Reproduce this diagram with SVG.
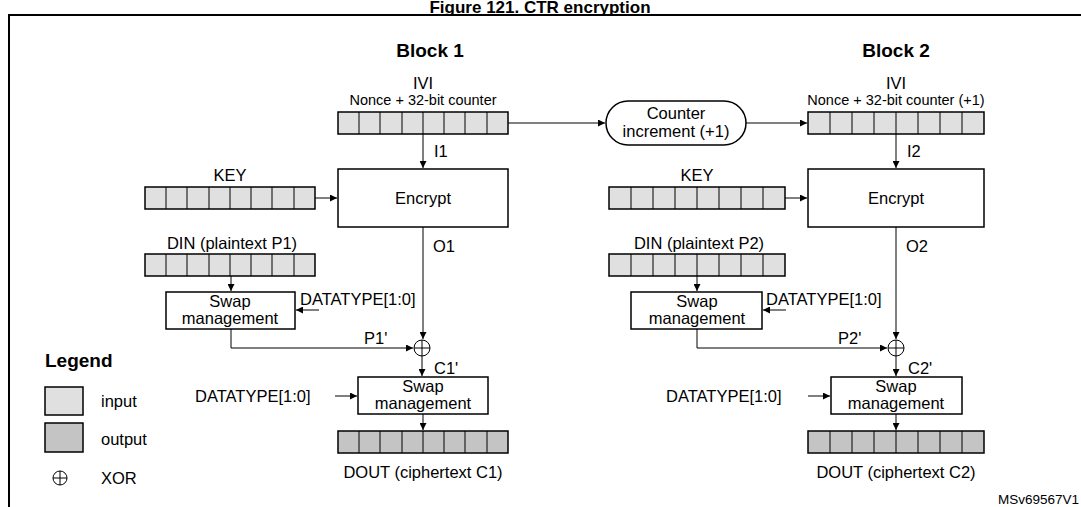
<svg xmlns="http://www.w3.org/2000/svg" width="1081" height="507" viewBox="0 0 1081 507">
<style>
text{font-family:"Liberation Sans",Arial,sans-serif;fill:#000}
.t{font-size:16.5px}
.s{font-size:14.5px}
.b{font-size:19px;font-weight:bold}
.in{fill:#e0e0e0;stroke:#000;stroke-width:1.5}
.out{fill:#c4c4c4;stroke:#000;stroke-width:1.5}
.bx{fill:#fff;stroke:#000;stroke-width:1.5}
.ln{fill:none;stroke:#000;stroke-width:1}
</style>
<defs>
<marker id="a" viewBox="0 0 10 10" refX="10" refY="5" markerWidth="7" markerHeight="7" markerUnits="userSpaceOnUse" orient="auto"><path d="M0,0L10,5L0,10z" fill="#000"/></marker>
</defs>
<rect width="1081" height="507" fill="#fff"/>
<text x="540" y="13" text-anchor="middle" style="font-size:17px;font-weight:bold">Figure 121. CTR encryption</text>
<path d="M9,507V15H1081" fill="none" stroke="#000" stroke-width="2"/>
<text class="b" x="430" y="57" text-anchor="middle">Block 1</text>
<text class="b" x="896" y="57" text-anchor="middle">Block 2</text>

<g id="ivi1"><text class="t" x="423" y="89" text-anchor="middle">IVI</text><text class="s" x="423" y="105" text-anchor="middle">Nonce + 32-bit counter</text>
<rect class="in" x="338" y="112" width="170" height="22"/><path class="ln" stroke-width="1.5" d="M359,112v22M380,112v22M402,112v22M423,112v22M444,112v22M465,112v22M487,112v22"/></g>
<g id="key1"><text class="t" x="230" y="181" text-anchor="middle">KEY</text>
<rect class="in" x="145" y="187" width="170" height="22"/><path class="ln" stroke-width="1.5" d="M166,187v22M187,187v22M209,187v22M230,187v22M251,187v22M272,187v22M294,187v22"/></g>
<g id="enc1"><rect class="bx" x="338" y="169" width="170" height="58"/><text class="t" x="423" y="204" text-anchor="middle">Encrypt</text></g>
<g id="din1"><text class="t" x="232" y="249" text-anchor="middle">DIN (plaintext P1)</text>
<rect class="in" x="145" y="254" width="170" height="22"/><path class="ln" stroke-width="1.5" d="M166,254v22M187,254v22M209,254v22M230,254v22M251,254v22M272,254v22M294,254v22"/></g>
<g id="swap1a"><rect class="bx" x="166" y="292" width="129" height="37"/><text class="t" x="230" y="307" text-anchor="middle">Swap</text><text class="t" x="230" y="324" text-anchor="middle">management</text></g>
<g id="xor1"><circle class="ln" cx="422" cy="348" r="8"/><path class="ln" d="M414,348h16M422,340v16"/></g>
<g id="swap1b"><rect class="bx" x="358" y="377" width="130" height="37"/><text class="t" x="423" y="392" text-anchor="middle">Swap</text><text class="t" x="423" y="409" text-anchor="middle">management</text></g>
<g id="dout1"><rect class="out" x="338" y="431" width="170" height="22"/><path class="ln" stroke-width="1.5" d="M359,431v22M380,431v22M402,431v22M423,431v22M444,431v22M465,431v22M487,431v22"/>
<text class="t" x="423" y="478" text-anchor="middle">DOUT (ciphertext C1)</text></g>

<g id="counter"><rect class="bx" x="606" y="101" width="140" height="44" rx="22" stroke-width="1"/><text class="t" x="676" y="119" text-anchor="middle">Counter</text><text class="t" x="676" y="137" text-anchor="middle">increment (+1)</text></g>

<g id="ivi2"><text class="t" x="896" y="89" text-anchor="middle">IVI</text><text class="s" x="896" y="105" text-anchor="middle">Nonce + 32-bit counter (+1)</text>
<rect class="in" x="808" y="112" width="176" height="22"/><path class="ln" stroke-width="1.5" d="M830,112v22M852,112v22M874,112v22M896,112v22M918,112v22M940,112v22M962,112v22"/></g>
<g id="key2"><text class="t" x="697" y="181" text-anchor="middle">KEY</text>
<rect class="in" x="609" y="187" width="176" height="22"/><path class="ln" stroke-width="1.5" d="M631,187v22M653,187v22M675,187v22M697,187v22M719,187v22M741,187v22M763,187v22"/></g>
<g id="enc2"><rect class="bx" x="808" y="169" width="176" height="58"/><text class="t" x="896" y="204" text-anchor="middle">Encrypt</text></g>
<g id="din2"><text class="t" x="699" y="249" text-anchor="middle">DIN (plaintext P2)</text>
<rect class="in" x="609" y="254" width="176" height="22"/><path class="ln" stroke-width="1.5" d="M631,254v22M653,254v22M675,254v22M697,254v22M719,254v22M741,254v22M763,254v22"/></g>
<g id="swap2a"><rect class="bx" x="631" y="292" width="131" height="37"/><text class="t" x="697" y="307" text-anchor="middle">Swap</text><text class="t" x="697" y="324" text-anchor="middle">management</text></g>
<g id="xor2"><circle class="ln" cx="896" cy="348" r="8"/><path class="ln" d="M888,348h16M896,340v16"/></g>
<g id="swap2b"><rect class="bx" x="831" y="377" width="131" height="37"/><text class="t" x="896" y="392" text-anchor="middle">Swap</text><text class="t" x="896" y="409" text-anchor="middle">management</text></g>
<g id="dout2"><rect class="out" x="808" y="431" width="176" height="22"/><path class="ln" stroke-width="1.5" d="M830,431v22M852,431v22M874,431v22M896,431v22M918,431v22M940,431v22M962,431v22"/>
<text class="t" x="896" y="478" text-anchor="middle">DOUT (ciphertext C2)</text></g>

<g id="connectors">
<path class="ln" d="M423,134V168" marker-end="url(#a)"/><text class="t" x="434" y="157">I1</text>
<path class="ln" d="M315,198H337" marker-end="url(#a)"/>
<path class="ln" d="M423,227V339" marker-end="url(#a)"/><text class="t" x="433" y="252">O1</text>
<path class="ln" d="M231,276V291" marker-end="url(#a)"/>
<path class="ln" d="M319,310H296" marker-end="url(#a)"/><text class="t" x="300" y="305">DATATYPE[1:0]</text>
<path class="ln" d="M231,329V348H413" marker-end="url(#a)"/><text class="t" x="364" y="344">P1'</text>
<path class="ln" d="M422,356V376" marker-end="url(#a)"/><text class="t" x="434" y="374">C1'</text>
<path class="ln" d="M335,396H357" marker-end="url(#a)"/><text class="t" x="195" y="402">DATATYPE[1:0]</text>
<path class="ln" d="M423,414V430" marker-end="url(#a)"/>
<path class="ln" d="M508,123H605" marker-end="url(#a)"/>
<path class="ln" d="M746,123H807" marker-end="url(#a)"/>
<path class="ln" d="M896,134V168" marker-end="url(#a)"/><text class="t" x="907" y="157">I2</text>
<path class="ln" d="M785,198H807" marker-end="url(#a)"/>
<path class="ln" d="M896,227V339" marker-end="url(#a)"/><text class="t" x="906" y="252">O2</text>
<path class="ln" d="M697,276V291" marker-end="url(#a)"/>
<path class="ln" d="M786,310H763" marker-end="url(#a)"/><text class="t" x="766" y="305">DATATYPE[1:0]</text>
<path class="ln" d="M697,329V348H887" marker-end="url(#a)"/><text class="t" x="838" y="344">P2'</text>
<path class="ln" d="M896,356V376" marker-end="url(#a)"/><text class="t" x="908" y="374">C2'</text>
<path class="ln" d="M808,396H830" marker-end="url(#a)"/><text class="t" x="666" y="402">DATATYPE[1:0]</text>
<path class="ln" d="M896,414V430" marker-end="url(#a)"/>
</g>

<g id="legend">
<text x="45" y="367" style="font-size:19px;font-weight:bold">Legend</text>
<rect class="in" x="45" y="387" width="38" height="28" stroke-width="1"/><text class="t" x="101" y="407">input</text>
<rect class="out" x="45" y="423" width="38" height="29" stroke-width="1"/><text class="t" x="101" y="445">output</text>
<circle class="ln" cx="60" cy="478" r="7"/><path class="ln" d="M53,478h14M60,471v14"/><text class="t" x="101" y="484">XOR</text>
</g>
<text x="1079" y="504" text-anchor="end" style="font-size:13.5px">MSv69567V1</text>
</svg>
